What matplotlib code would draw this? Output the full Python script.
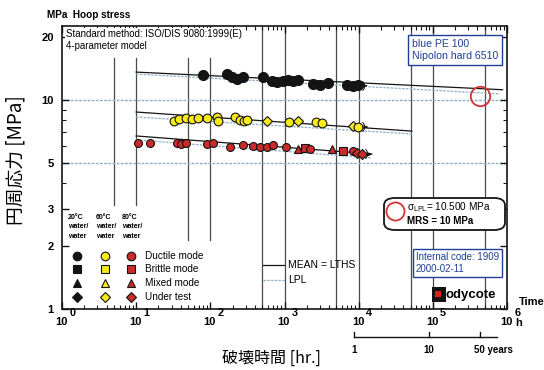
import numpy as np
import matplotlib
matplotlib.use('Agg')
import matplotlib.pyplot as plt
from matplotlib.patches import Rectangle, FancyBboxPatch
from matplotlib.lines import Line2D
import matplotlib.ticker as mticker
import matplotlib.transforms as mtransforms

plt.rcParams['font.family'] = ['Liberation Sans', 'DejaVu Sans']

# ---------------- data ----------------
# 20 C water/water (black)
t20 = [79, 166, 195, 229, 275, 513, 676, 794, 955, 1122, 1288, 1514, 2399, 3020, 3802, 6918, 8318, 9772]
s20 = [13.2, 13.3, 12.9, 12.6, 12.9, 12.9, 12.3, 12.2, 12.3, 12.5, 12.3, 12.5, 11.9, 11.8, 12.1, 11.8, 11.7, 11.8]
m20 = ['o'] * len(t20)

# 60 C water/water (yellow)
t60 = [32, 38, 47, 56, 68, 89, 123, 126, 214, 251, 282, 309, 575, 1148, 1514, 2630, 3236, 8318, 9772]
s60 = [7.94, 8.11, 8.20, 8.11, 8.20, 8.20, 8.29, 7.94, 8.29, 8.02, 7.94, 8.02, 7.94, 7.85, 7.94, 7.85, 7.76, 7.51, 7.43]
m60 = ['o'] * 12 + ['D', 'o', 'D', 'o', 'o', 'D', 'o']

# 80 C water/water (red)
t80 = [10.5, 15.5, 35.5, 39.8, 46.8, 89, 110, 182, 275, 372, 468, 575, 692, 1047, 1514, 1862, 2188, 4365, 6166, 8318, 9550, 10965]
s80 = [6.23, 6.23, 6.23, 6.16, 6.23, 6.16, 6.23, 5.96, 6.09, 6.03, 5.96, 5.96, 6.09, 5.96, 5.83, 5.89, 5.83, 5.83, 5.70, 5.70, 5.58, 5.52]
m80 = ['o'] * 14 + ['^', 's', 'o', '^', 's', 'o', 'D', 'D']

# regression lines (MEAN = LTHS) and LPL
mean20_t, mean20_s = [10, 8.7e5], [13.6, 11.2]
lpl20_t, lpl20_s = [10, 8.0e5], [13.3, 10.7]
mean60_t, mean60_s = [10, 5.2e4], [8.76, 7.10]
lpl60_t, lpl60_s = [10, 5.2e4], [8.29, 6.88]
mean80_t, mean80_s = [10, 1.5e4], [6.73, 5.52]
lpl80_t, lpl80_s = [10, 1.5e4], [6.44, 5.28]

# running tests (last points) markers
run_t = [1.17e4, 1.17e4, 1.29e4]
run_s = [11.7, 7.43, 5.50]
arrow_end_t = [1.30e4, 1.45e4, 1.52e4]

# LPL at 50 years
lpl50_t, lpl50_s = 438000, 10.5

grid_t = [5, 10, 50, 100, 500, 1000, 5000, 10000, 50000, 100000, 500000]
hgrid_s = [5, 10]
ytick_vals = [1, 2, 3, 5, 10, 20]
xtick_vals = [1, 10, 100, 1000, 10000, 100000, 1000000]
years_vals = [1, 10, 50]
years_labels = ['1', '10', '50 years']

BLACK = '#141414'
YELLOW = '#f6ea1a'
RED = '#c92b2b'
BLUE = '#1f3f96'
GRIDBLUE = '#8fb0c6'

W, H = 544, 370
fig = plt.figure(figsize=(W / 100, H / 100), dpi=100)
L, R, T, B = 62, 507, 26, 309
ax = fig.add_axes([L / W, 1 - B / H, (R - L) / W, (B - T) / H])
ax.set_xscale('log')
ax.set_yscale('log')
ax.set_xlim(1, 1e6)
ax.set_ylim(1, 22.6)

def fx(px):
    return px / W

def fy(py):
    return 1 - py / H

# vertical grid lines
for t in grid_t:
    if t in (5, 10):
        ax.plot([t, t], [3.15, 15.9], color='#4a4a4a', lw=0.9, zorder=1)
    elif t in (50, 100):
        ax.plot([t, t], [2.14, 15.9], color='#4a4a4a', lw=0.9, zorder=1)
    else:
        ax.axvline(t, color='#4a4a4a', lw=0.9, zorder=1)
for s in hgrid_s:
    ax.axhline(s, color=GRIDBLUE, lw=1.0, ls=(0, (2, 1)), zorder=1)

# regression lines
for (mt, ms, lt, ls_) in [(mean20_t, mean20_s, lpl20_t, lpl20_s),
                          (mean60_t, mean60_s, lpl60_t, lpl60_s),
                          (mean80_t, mean80_s, lpl80_t, lpl80_s)]:
    ax.plot(lt, ls_, color=GRIDBLUE, lw=0.9, ls=(0, (2, 1)), zorder=2)
    ax.plot(mt, ms, color=BLACK, lw=0.9, zorder=2)

# data points
for tt, ss, mm, fc, sz in [(t20, s20, m20, BLACK, 7.2), (t60, s60, m60, YELLOW, 6.3), (t80, s80, m80, RED, 5.7)]:
    for t, s, m in zip(tt, ss, mm):
        ms = sz * (0.85 if m == 'D' else 1.0)
        ax.plot([t], [s], marker=m, ms=ms, mfc=fc, mec=BLACK, mew=0.8, ls='none', zorder=4)

# running test markers
for t, s, te in zip(run_t, run_s, arrow_end_t):
    ax.text(t, s, ')', fontsize=8, ha='center', va='center', zorder=5)
    ax.annotate('', xy=(te, s), xytext=(t, s),
                arrowprops=dict(arrowstyle='-|>', lw=0.7, color=BLACK, mutation_scale=5), zorder=5)

# LPL circle at 50 years
ax.plot([lpl50_t], [lpl50_s], marker='o', ms=14, mfc='none', mec='#d23333', mew=1.3, zorder=6)

# ticks
ax.set_xticks(xtick_vals)
ax.set_xticklabels([''] * len(xtick_vals))
ax.xaxis.set_minor_locator(mticker.LogLocator(base=10, subs=np.arange(2, 10), numticks=20))
ax.xaxis.set_minor_formatter(mticker.NullFormatter())
ax.set_yticks(ytick_vals)
ax.set_yticklabels([str(v) for v in ytick_vals], fontweight='bold')
ax.yaxis.set_minor_locator(mticker.LogLocator(base=10, subs=np.arange(2, 10), numticks=20))
ax.yaxis.set_minor_formatter(mticker.NullFormatter())
ax.tick_params(axis='both', which='both', direction='in', top=True, right=True, color=BLACK)
ax.tick_params(axis='both', which='major', length=5, width=1.0)
ax.tick_params(axis='both', which='minor', length=3, width=0.8)
ax.tick_params(axis='y', which='major', labelsize=8, pad=6)
for sp in ax.spines.values():
    sp.set_linewidth(1.2)
    sp.set_color(BLACK)

# x tick labels: "10" centred on the tick, exponent raised to the right
xtr = ax.get_xaxis_transform()
for v in xtick_vals:
    base_tr = mtransforms.offset_copy(xtr, fig=fig, x=-0.5, y=-9.2, units='points')
    exp_tr = mtransforms.offset_copy(xtr, fig=fig, x=5.2, y=-2.8, units='points')
    ax.text(v, 0, '10', transform=base_tr, fontsize=8, fontweight='bold', ha='center', va='center',
            clip_on=False)
    ax.text(v, 0, str(int(round(np.log10(v)))), transform=exp_tr, fontsize=7.8, fontweight='bold',
            ha='left', va='center', clip_on=False)

# texts
fig.text(fx(47), fy(15), 'MPa  Hoop stress', fontsize=7.2, fontweight='bold', va='center', ha='left')
fig.text(fx(66), fy(40), 'Standard method: ISO/DIS 9080:1999(E)\n4-parameter model', fontsize=6.9,
         va='center', ha='left', linespacing=1.3,
         bbox=dict(facecolor='white', edgecolor='none', pad=0.5), zorder=10)
fig.text(fx(412), fy(50), 'blue PE 100\nNipolon hard 6510', fontsize=7.6, color=BLUE, va='center', ha='left',
         linespacing=1.3, zorder=10,
         bbox=dict(boxstyle='square,pad=0.35', facecolor='white', edgecolor=BLUE, lw=1.0))

# sigma LPL box
box = FancyBboxPatch((fx(384), fy(230)), fx(505) - fx(384), fy(198) - fy(230),
                     boxstyle='round,pad=0,rounding_size=0.02', transform=fig.transFigure,
                     facecolor='white', edgecolor=BLACK, lw=1.3, zorder=10)
fig.add_artist(box)
fig.add_artist(Line2D([fx(395)], [fy(211)], marker='o', ms=13, mfc='none', mec='#d23333', mew=1.3,
                      transform=fig.transFigure, zorder=11))
fig.text(fx(407), fy(207), r'$\mathregular{\sigma_{LPL}}$= 10.500 MPa', fontsize=7.2, va='center', ha='left', zorder=11)
fig.text(fx(407), fy(221), 'MRS = 10 MPa', fontsize=7, fontweight='bold', va='center', ha='left', zorder=11)

fig.text(fx(416), fy(263), 'Internal code: 1909\n2000-02-11', fontsize=7, color=BLUE, va='center', ha='left',
         linespacing=1.35, zorder=10,
         bbox=dict(boxstyle='square,pad=0.3', facecolor='white', edgecolor=BLUE, lw=1.0))

# Bodycote logo
fig.add_artist(Rectangle((fx(432), fy(302)), fx(446) - fx(432), fy(287) - fy(302), transform=fig.transFigure,
                         facecolor=BLACK, edgecolor='none', zorder=11))
fig.add_artist(Rectangle((fx(435), fy(297)), fx(441) - fx(435), fy(291) - fy(297), transform=fig.transFigure,
                         facecolor='#e02020', edgecolor='none', zorder=12))
fig.text(fx(446), fy(295), 'odycote', fontsize=9.5, fontweight='bold', va='center', ha='left', zorder=11)

# MEAN / LPL legend
fig.add_artist(Line2D([fx(263), fx(284)], [fy(265), fy(265)], color=BLACK, lw=0.9, transform=fig.transFigure))
fig.add_artist(Line2D([fx(263), fx(284)], [fy(280), fy(280)], color=GRIDBLUE, lw=0.9, ls=(0, (2, 1)),
                      transform=fig.transFigure))
fig.text(fx(288), fy(265), 'MEAN = LTHS', fontsize=7.5, va='center', ha='left')
fig.text(fx(288), fy(280), 'LPL', fontsize=7.5, va='center', ha='left')

# mode legend
col_x = [77, 105, 131]
col_fc = [BLACK, YELLOW, RED]
col_head = ['20\u00b0C\nwater/\nwater', '60\u00b0C\nwater/\nwater', '80\u00b0C\nwater/\nwater']
row_y = [256, 269, 283, 297]
row_m = ['o', 's', '^', 'D']
row_lab = ['Ductile mode', 'Brittle mode', 'Mixed mode', 'Under test']
for cx, fc, hd in zip(col_x, col_fc, col_head):
    fig.text(fx(cx - 9), fy(227), hd, fontsize=5, fontweight='bold', va='center', ha='left', linespacing=1.45)
    for ry, m in zip(row_y, row_m):
        fig.add_artist(Line2D([fx(cx)], [fy(ry)], marker=m, ms=6.2 if m != 'D' else 5.6, mfc=fc, mec=BLACK,
                              mew=0.8, transform=fig.transFigure))
for ry, lab in zip(row_y, row_lab):
    fig.text(fx(145), fy(ry), lab, fontsize=7.2, va='center', ha='left')

# Time / h
fig.text(fx(519), fy(302), 'Time', fontsize=8, fontweight='bold', va='center', ha='left')
fig.text(fx(515), fy(323), 'h', fontsize=8, fontweight='bold', va='center', ha='left')

# years scale
tr = ax.get_xaxis_transform()
ybar = (B - 337) / (B - T)
ylab = (B - 350) / (B - T)
ticklen = 5 / (B - T)
yr_h = [y * 8760 for y in years_vals]
ax.plot([yr_h[0], 7.3e5], [ybar, ybar], color=BLACK, lw=1.0, transform=tr, clip_on=False)
for h, lab in zip(yr_h, years_labels):
    ax.plot([h, h], [ybar, ybar + ticklen], color=BLACK, lw=1.0, transform=tr, clip_on=False)
    if lab.endswith('years'):
        ax.text(h * 0.83, ylab, lab, transform=tr, fontsize=7, fontweight='bold', ha='left', va='center',
                clip_on=False)
    else:
        ax.text(h, ylab, lab, transform=tr, fontsize=7, fontweight='bold', ha='center', va='center', clip_on=False)

# axis labels
fig.text(fx(271), fy(358), '破壊時間 [hr.]', fontsize=11.5, ha='center', va='center',
         family=['Noto Sans CJK JP', 'DejaVu Sans'])
fig.text(fx(16), fy(160), '円周応力 [MPa]', fontsize=13.5, ha='center', va='center', rotation=90,
         family=['Noto Sans CJK JP', 'DejaVu Sans'])

fig.savefig('out.png', dpi=100)
